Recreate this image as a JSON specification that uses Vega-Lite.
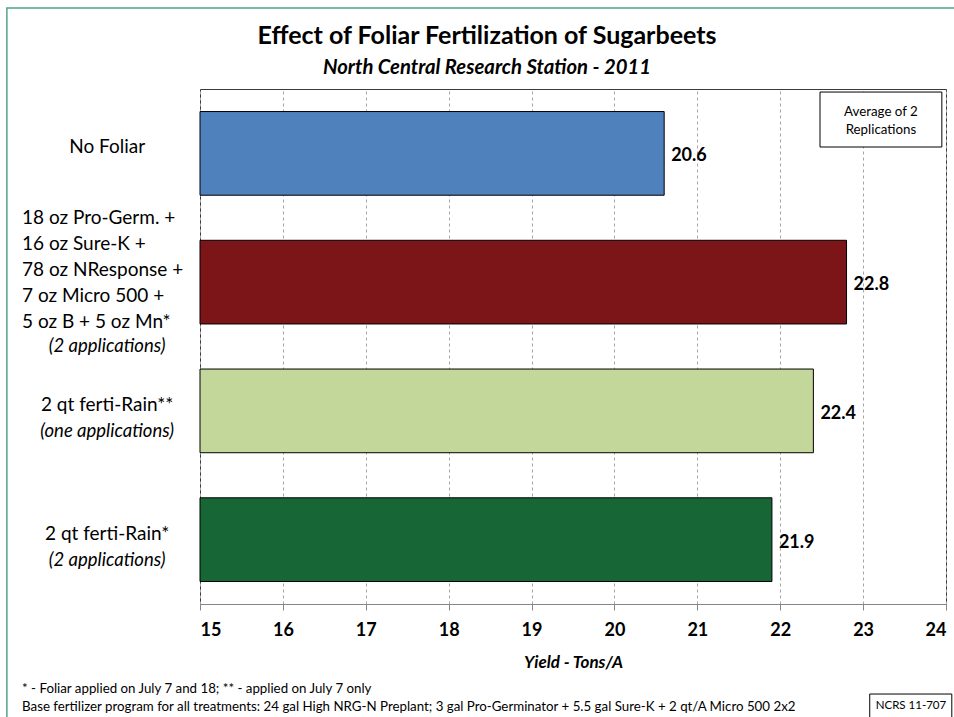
{
  "$schema": "https://vega.github.io/schema/vega-lite/v6.json",
  "width": 746,
  "height": 515,
  "autosize": {"type": "none"},
  "padding": {"left": 200, "top": 89, "right": 8, "bottom": 113},
  "background": "white",
  "config": {
    "font": "Lato",
    "view": {"stroke": "#3a3a3a", "strokeWidth": 1}
  },
  "title": {
    "text": "Effect of Foliar Fertilization of Sugarbeets",
    "subtitle": "North Central Research Station - 2011",
    "font": "Lato",
    "fontSize": 25,
    "fontWeight": "bold",
    "color": "black",
    "subtitleFont": "Lato",
    "subtitleFontSize": 20.3,
    "subtitleFontWeight": "bold",
    "subtitleFontStyle": "italic",
    "subtitleColor": "black",
    "subtitlePadding": 9,
    "anchor": "middle",
    "dx": -86,
    "offset": -71
  },
  "data": {
    "values": [
      {"treatment": "No Foliar", "yield": 20.6, "main": "No Foliar", "note": ""},
      {"treatment": "Pro-Germ mix", "yield": 22.8, "main": "18 oz Pro-Germ.  +\n16 oz Sure-K +\n78 oz NResponse  +\n7 oz Micro 500 +\n5 oz B + 5 oz Mn*", "note": "(2 applications)"},
      {"treatment": "ferti-Rain x1", "yield": 22.4, "main": "2 qt ferti-Rain**", "note": "(one applications)"},
      {"treatment": "ferti-Rain x2", "yield": 21.9, "main": "2 qt ferti-Rain*", "note": "(2 applications)"}
    ]
  },
  "encoding": {
    "y": {
      "field": "treatment",
      "type": "nominal",
      "scale": {
        "domain": ["No Foliar", "Pro-Germ mix", "ferti-Rain x1", "ferti-Rain x2"],
        "paddingInner": 0.35,
        "paddingOuter": 0.175
      },
      "axis": null
    }
  },
  "layer": [
    {
      "data": {"values": [{"frame": "outer"}]},
      "mark": {"type": "rect", "fill": null, "stroke": "#4fa683", "strokeWidth": 1.5},
      "encoding": {
        "x": {"datum": 12.67, "type": "quantitative"},
        "x2": {"datum": 30},
        "y": {"datum": "No Foliar", "type": "nominal", "bandPosition": -1.237},
        "y2": {"datum": "ferti-Rain x2", "bandPosition": 5}
      }
    },
    {
      "mark": {"type": "bar", "stroke": "black", "strokeWidth": 1},
      "encoding": {
        "x": {
          "field": "yield",
          "type": "quantitative",
          "scale": {"domain": [15, 24], "zero": false, "nice": false},
          "axis": {
            "values": [15, 16, 17, 18, 19, 20, 21, 22, 23, 24],
            "format": "d",
            "labelFont": "Lato",
            "labelFontSize": 18,
            "labelFontWeight": "bold",
            "labelColor": "black",
            "labelPadding": 11,
            "tickColor": "#868686",
            "tickSize": 6,
            "domainColor": "#868686",
            "grid": true,
            "gridColor": "#a6a6a6",
            "gridDash": [3, 3],
            "title": "Yield - Tons/A",
            "titleFont": "Lato",
            "titleFontSize": 17,
            "titleFontWeight": "bold",
            "titleFontStyle": "italic",
            "titleColor": "black",
            "titlePadding": 15
          }
        },
        "x2": {"datum": 15},
        "color": {
          "field": "treatment",
          "type": "nominal",
          "scale": {
            "domain": ["No Foliar", "Pro-Germ mix", "ferti-Rain x1", "ferti-Rain x2"],
            "range": ["#4f81bd", "#7c1518", "#c4d79b", "#176636"]
          },
          "legend": null
        }
      }
    },
    {
      "mark": {"type": "text", "align": "left", "baseline": "middle", "dx": 7, "dy": 3, "fontSize": 18, "fontWeight": "bold", "color": "black"},
      "encoding": {
        "x": {"field": "yield", "type": "quantitative"},
        "text": {"field": "yield", "type": "quantitative", "format": ".1f"}
      }
    },
    {
      "transform": [{"filter": "datum.treatment != 'Pro-Germ mix'"}],
      "mark": {"type": "text", "align": "center", "baseline": "middle", "dy": -6, "fontSize": 19, "color": "black"},
      "encoding": {
        "x": {"datum": 13.88, "type": "quantitative"},
        "text": {"field": "main", "type": "nominal"}
      }
    },
    {
      "transform": [{"filter": "datum.treatment == 'Pro-Germ mix'"}],
      "mark": {"type": "text", "align": "left", "baseline": "middle", "dy": -64, "fontSize": 19, "lineHeight": 26, "lineBreak": "\n", "color": "black"},
      "encoding": {
        "x": {"datum": 12.853, "type": "quantitative"},
        "text": {"field": "main", "type": "nominal"}
      }
    },
    {
      "transform": [{"filter": "datum.treatment == 'Pro-Germ mix'"}],
      "mark": {"type": "text", "align": "center", "baseline": "middle", "dy": 64, "fontSize": 18.5, "fontStyle": "italic", "color": "black"},
      "encoding": {
        "x": {"datum": 13.88, "type": "quantitative"},
        "text": {"field": "note", "type": "nominal"}
      }
    },
    {
      "transform": [{"filter": "datum.treatment == 'ferti-Rain x1' || datum.treatment == 'ferti-Rain x2'"}],
      "mark": {"type": "text", "align": "center", "baseline": "middle", "dy": 20, "fontSize": 18.5, "fontStyle": "italic", "color": "black"},
      "encoding": {
        "x": {"datum": 13.88, "type": "quantitative"},
        "text": {"field": "note", "type": "nominal"}
      }
    },
    {
      "data": {"values": [{"box": "Average of 2"}]},
      "mark": {"type": "rect", "fill": "white", "stroke": "black", "strokeWidth": 1},
      "encoding": {
        "x": {"datum": 22.48, "type": "quantitative"},
        "x2": {"datum": 23.95},
        "y": {"datum": "No Foliar", "type": "nominal", "bandPosition": -0.233},
        "y2": {"datum": "No Foliar", "bandPosition": 0.424}
      }
    },
    {
      "data": {"values": [{"label": "Average of 2\nReplications"}]},
      "mark": {"type": "text", "align": "center", "baseline": "middle", "fontSize": 13.3, "lineHeight": 18, "lineBreak": "\n", "color": "black"},
      "encoding": {
        "x": {"datum": 23.215, "type": "quantitative"},
        "y": {"datum": "No Foliar", "type": "nominal", "bandPosition": 0},
        "text": {"field": "label", "type": "nominal"}
      }
    },
    {
      "data": {"values": [{"label": "* - Foliar applied on July 7 and 18; ** - applied on July 7 only\nBase fertilizer program for all treatments:  24 gal High  NRG-N Preplant; 3 gal Pro-Germinator + 5.5 gal Sure-K + 2 qt/A Micro 500   2x2"}]},
      "mark": {"type": "text", "align": "left", "baseline": "middle", "fontSize": 13.3, "lineHeight": 18, "lineBreak": "\n", "color": "black"},
      "encoding": {
        "x": {"datum": 12.853, "type": "quantitative"},
        "y": {"datum": "ferti-Rain x2", "type": "nominal", "bandPosition": 2.285},
        "text": {"field": "label", "type": "nominal"}
      }
    },
    {
      "data": {"values": [{"box": "NCRS"}]},
      "mark": {"type": "rect", "fill": "white", "stroke": "black", "strokeWidth": 1},
      "encoding": {
        "x": {"datum": 23.08, "type": "quantitative"},
        "x2": {"datum": 24.07},
        "y": {"datum": "ferti-Rain x2", "type": "nominal", "bandPosition": 2.345},
        "y2": {"datum": "ferti-Rain x2", "bandPosition": 2.85}
      }
    },
    {
      "data": {"values": [{"label": "NCRS 11-707"}]},
      "mark": {"type": "text", "align": "center", "baseline": "middle", "fontSize": 11.5, "color": "black"},
      "encoding": {
        "x": {"datum": 23.577, "type": "quantitative"},
        "y": {"datum": "ferti-Rain x2", "type": "nominal", "bandPosition": 2.488},
        "text": {"field": "label", "type": "nominal"}
      }
    }
  ]
}
